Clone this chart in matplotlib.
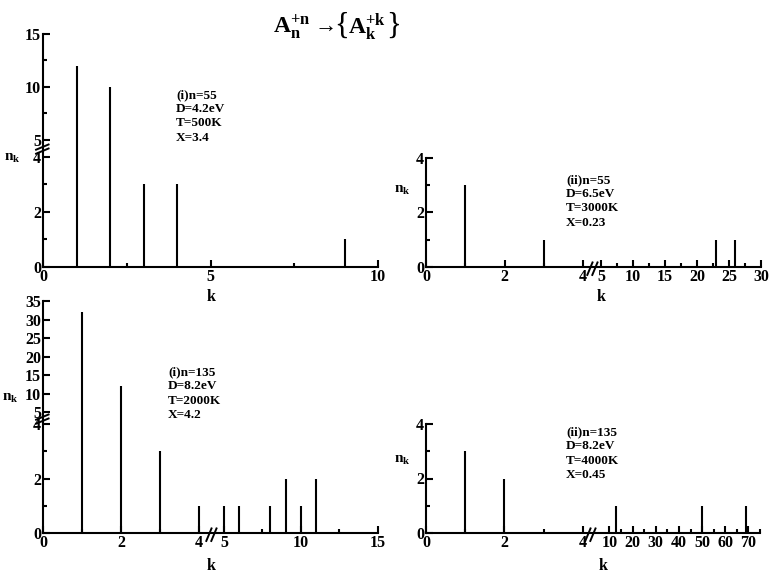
import numpy as np
import matplotlib
matplotlib.use('agg')
import matplotlib.pyplot as plt
import matplotlib.ticker as ticker
import matplotlib.transforms as mtransforms

plt.rcParams['font.family'] = ['Liberation Serif', 'DejaVu Serif']
plt.rcParams['font.weight'] = 'bold'
plt.rcParams['mathtext.fontset'] = 'custom'
plt.rcParams['mathtext.rm'] = 'Liberation Serif:bold'
plt.rcParams['mathtext.it'] = 'Liberation Serif:bold'
plt.rcParams['mathtext.bf'] = 'Liberation Serif:bold'

# fragment distributions n_k vs k
k_a = [1, 2, 3, 4, 9]
n_a = [12, 10, 3, 3, 1]
k_b = [1, 3, 23, 26]
n_b = [3, 1, 1, 1]
k_c = [1, 2, 3, 4, 5, 6, 8, 9, 10, 11]
n_c = [32, 12, 3, 1, 1, 1, 1, 2, 1, 2]
k_d = [1, 2, 13, 50, 69]
n_d = [3, 2, 1, 1, 1]

text_a = '(i)n=55\nD=4.2eV\nT=500K\nX=3.4'
text_b = '(ii)n=55\nD=6.5eV\nT=3000K\nX=0.23'
text_c = '(i)n=135\nD=8.2eV\nT=2000K\nX=4.2'
text_d = '(ii)n=135\nD=8.2eV\nT=4000K\nX=0.45'

W, H = 772, 575


def piecewise(xp, up):
    xp = np.asarray(xp, float)
    up = np.asarray(up, float)

    def f(x):
        x = np.asarray(x, float)
        y = np.interp(x, xp, up)
        s0 = (up[1] - up[0]) / (xp[1] - xp[0])
        s1 = (up[-1] - up[-2]) / (xp[-1] - xp[-2])
        y = np.where(x < xp[0], up[0] + (x - xp[0]) * s0, y)
        y = np.where(x > xp[-1], up[-1] + (x - xp[-1]) * s1, y)
        return y
    return f


def broken(hi_start, hi_end, gap, scale, lo_end=4):
    xp = [0, lo_end, hi_start, hi_end]
    up = [0, lo_end, lo_end + gap, lo_end + gap + (hi_end - hi_start) * scale]
    return piecewise(xp, up), piecewise(up, xp)


def make_ax(px):
    # px = (left, top, right, bottom) in pixels
    l, t, r, b = px
    ax = fig.add_axes([l / W, 1 - b / H, (r - l) / W, (b - t) / H])
    for s in ['top', 'right']:
        ax.spines[s].set_visible(False)
    for s in ['left', 'bottom']:
        ax.spines[s].set_linewidth(1.5)
    ax.tick_params(which='both', direction='in', width=1.5, labelsize=11.5, pad=1.5)
    ax.tick_params(which='major', length=5)
    ax.tick_params(which='minor', length=3)
    return ax


def set_ticks(axis, major, minor):
    axis.set_major_locator(ticker.FixedLocator(major))
    axis.set_minor_locator(ticker.FixedLocator(minor))
    axis.set_major_formatter(ticker.FixedFormatter([str(v) for v in major]))


def xbreak(ax, xb, d):
    tr = mtransforms.blended_transform_factory(ax.transData, ax.transAxes)
    ax.plot([xb - d, xb + d], [0, 0], ls='none', marker=[(-0.6, -1.4), (0.4, 1.0)],
            ms=12, mew=1.4, color='k', transform=tr, clip_on=False)


def ybreak(ax, yb, d):
    tr = mtransforms.blended_transform_factory(ax.transAxes, ax.transData)
    ax.plot([0, 0], [yb - d, yb + d], ls='none', marker=[(-1.4, -0.6), (1.0, 0.4)],
            ms=12, mew=1.4, color='k', transform=tr, clip_on=False)


fig = plt.figure(figsize=(W / 100, H / 100), dpi=100)

# (a) top-left
ax1 = make_ax((43, 34, 378, 267))
f, g = broken(5, 15, 0.62, 0.385)
ax1.set_yscale('function', functions=(f, g))
ax1.vlines(k_a, 0, n_a, color='k', lw=1.5)
ax1.set_xlim(0, 10)
ax1.set_ylim(0, 15)
set_ticks(ax1.xaxis, [0, 5, 10], [2.5, 7.5])
set_ticks(ax1.yaxis, [0, 2, 4, 5, 10, 15], [1, 3, 7.5, 12.5])
ybreak(ax1, 4.5, 0.12)

# (b) top-right
ax2 = make_ax((426, 158, 761, 267))
f, g = broken(5, 30, 0.46, 0.163)
ax2.set_xscale('function', functions=(f, g))
ax2.vlines(k_b, 0, n_b, color='k', lw=1.5)
ax2.set_xlim(0, 30)
ax2.set_ylim(0, 4)
set_ticks(ax2.xaxis, [0, 2, 4, 5, 10, 15, 20, 25, 30],
          [1, 3, 7.5, 12.5, 17.5, 22.5, 27.5])
set_ticks(ax2.yaxis, [0, 2, 4], [1, 3])
xbreak(ax2, 4.5, 0.14)

# (c) bottom-left
ax3 = make_ax((43, 301, 378, 533))
f, g = broken(5, 15, 0.64, 0.395)
ax3.set_xscale('function', functions=(f, g))
f, g = broken(5, 35, 0.44, 0.136)
ax3.set_yscale('function', functions=(f, g))
ax3.vlines(k_c, 0, n_c, color='k', lw=1.5)
ax3.set_xlim(0, 15)
ax3.set_ylim(0, 35)
set_ticks(ax3.xaxis, [0, 2, 4, 5, 10, 15], [1, 3, 7.5, 12.5])
set_ticks(ax3.yaxis, [0, 2, 4, 5, 10, 15, 20, 25, 30, 35], [1, 3])
xbreak(ax3, 4.5, 0.11)
ybreak(ax3, 4.5, 0.18)

# (d) bottom-right
ax4 = make_ax((426, 424, 760, 533))
f, g = broken(5, 75, 0.38, 0.059)
ax4.set_xscale('function', functions=(f, g))
ax4.vlines(k_d, 0, n_d, color='k', lw=1.5)
ax4.set_xlim(0, 75)
ax4.set_ylim(0, 4)
set_ticks(ax4.xaxis, [0, 2, 4, 10, 20, 30, 40, 50, 60, 70],
          [1, 3, 15, 25, 35, 45, 55, 65, 75])
set_ticks(ax4.yaxis, [0, 2, 4], [1, 3])
xbreak(ax4, 4.5, 0.17)

# annotations
for x, y, s in [(176, 89, text_a), (566, 174, text_b), (168, 366, text_c), (566, 426, text_d)]:
    fig.text(x / W, 1 - y / H, s, fontsize=9.5, fontweight='bold', va='top', ha='left',
             linespacing=1.25)

for x, y in [(12, 158), (402, 190), (10, 398), (402, 460)]:
    fig.text(x / W, 1 - y / H, r'$\mathbf{n_k}$', fontsize=11, ha='center', va='center')

for x, y in [(211, 297), (601, 297), (211, 566), (603, 566)]:
    fig.text(x / W, 1 - y / H, 'k', fontsize=11.5, fontweight='bold', ha='center', va='center')

# title: A_n^{+n} -> {A_k^{+k}}, one piece at a time
base = 1 - 34 / H
fig.text(273 / W, base, r'$\mathbf{A_n^{+n}}$', fontsize=17, ha='left', va='baseline')
fig.text(326 / W, base + 2 / H, '\u2192', fontsize=16, fontweight='normal', ha='center', va='baseline')
fig.text(342 / W, base, '{', fontsize=22, fontweight='normal', ha='center', va='baseline')
fig.text(348 / W, base, r'$\mathbf{A_k^{+k}}$', fontsize=17, ha='left', va='baseline')
fig.text(394 / W, base, '}', fontsize=22, fontweight='normal', ha='center', va='baseline')

fig.savefig('out.png', dpi=100)
